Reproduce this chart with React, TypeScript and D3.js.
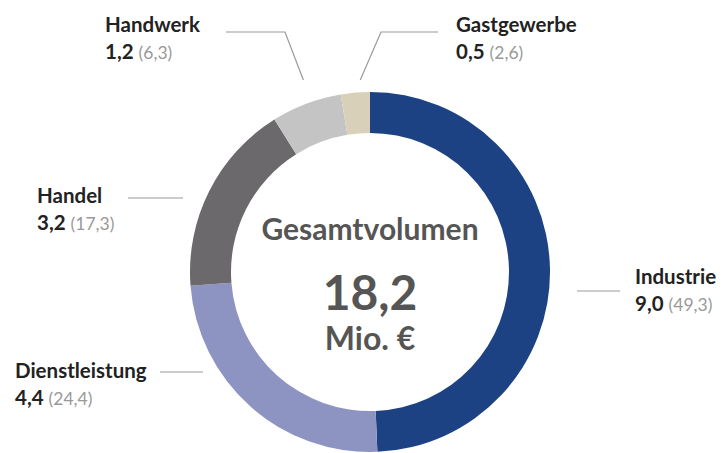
import React from "react";
import * as d3 from "d3";

// Investitionsvolumen nach Branchen (Mio. €, Anteil in %)
const categories = ["Industrie", "Dienstleistung", "Handel", "Handwerk", "Gastgewerbe"];
const volumes = [9.0, 4.4, 3.2, 1.2, 0.5];
const shares = [49.3, 24.4, 17.3, 6.3, 2.6];
const colors = ["#1d4284", "#8e94c2", "#6b696b", "#c4c4c4", "#d9d0ba"];
const total = 18.2;

// label placement (text anchor x, first baseline y, leader line)
const labelLayout = [
  { x: 635, y: 284, line: [[577, 291], [620, 291]] },
  { x: 15, y: 378, line: [[160, 372], [203, 372]] },
  { x: 37, y: 203, line: [[128, 198], [183, 198]] },
  { x: 105, y: 32, line: [[226, 32], [285, 32]], radial: true },
  { x: 456, y: 32, line: [[438, 32], [381, 32]], radial: true },
];

const width = 724;
const height = 453;
const cx = 370;
const cy = 272;
const outerR = 180;
const innerR = 139;

const fmt = (v: number) => v.toFixed(1).replace(".", ",");

export default function App() {
  const pie = d3
    .pie<number>()
    .sort(null)
    .value((d) => d);
  const arcs = pie(shares);
  const arc = d3
    .arc<d3.PieArcDatum<number>>()
    .innerRadius(innerR)
    .outerRadius(outerR);

  const font = "Lato, 'Open Sans', sans-serif";

  return (
    <svg
      width={width}
      height={height}
      style={{ position: "absolute", left: 0, top: 0, background: "#fff" }}
    >
      <g transform={`translate(${cx},${cy})`}>
        {arcs.map((a, i) => (
          <path key={categories[i]} d={arc(a) || ""} fill={colors[i]} />
        ))}
        <text
          y={-32}
          textAnchor="middle"
          fontFamily={font}
          fontWeight={700}
          fontSize={30}
          fill="#555"
        >
          Gesamtvolumen
        </text>
        <text
          y={38}
          textAnchor="middle"
          fontFamily={font}
          fontWeight={700}
          fontSize={48}
          fill="#555"
        >
          {fmt(total)}
        </text>
        <text
          y={78}
          textAnchor="middle"
          fontFamily={font}
          fontWeight={700}
          fontSize={32}
          fill="#555"
        >
          Mio. €
        </text>
      </g>

      {arcs.map((a, i) => {
        const l = labelLayout[i];
        let pts = l.line.map((p) => [p[0], p[1]]);
        if (l.radial) {
          // leader runs from the label towards the middle of its slice
          const mid = (a.startAngle + a.endAngle) / 2;
          const endY = 80;
          const r = (cy - endY) / Math.cos(mid);
          pts.push([cx + r * Math.sin(mid) + 6, endY]);
        }
        const line = d3.line()(pts as [number, number][]) || "";
        return (
          <g key={categories[i]}>
            <path d={line} fill="none" stroke="#999" strokeWidth={1.2} />
            <text
              x={l.x}
              y={l.y}
              fontFamily={font}
              fontWeight={700}
              fontSize={20.5}
              fill="#222"
            >
              {categories[i]}
            </text>
            <text x={l.x} y={l.y + 27} fontFamily={font} fill="#222">
              <tspan fontWeight={700} fontSize={20.5}>
                {fmt(volumes[i])}
              </tspan>
              <tspan fontSize={17.5} fill="#999" dx={5}>
                ({fmt(shares[i])})
              </tspan>
            </text>
          </g>
        );
      })}
    </svg>
  );
}
